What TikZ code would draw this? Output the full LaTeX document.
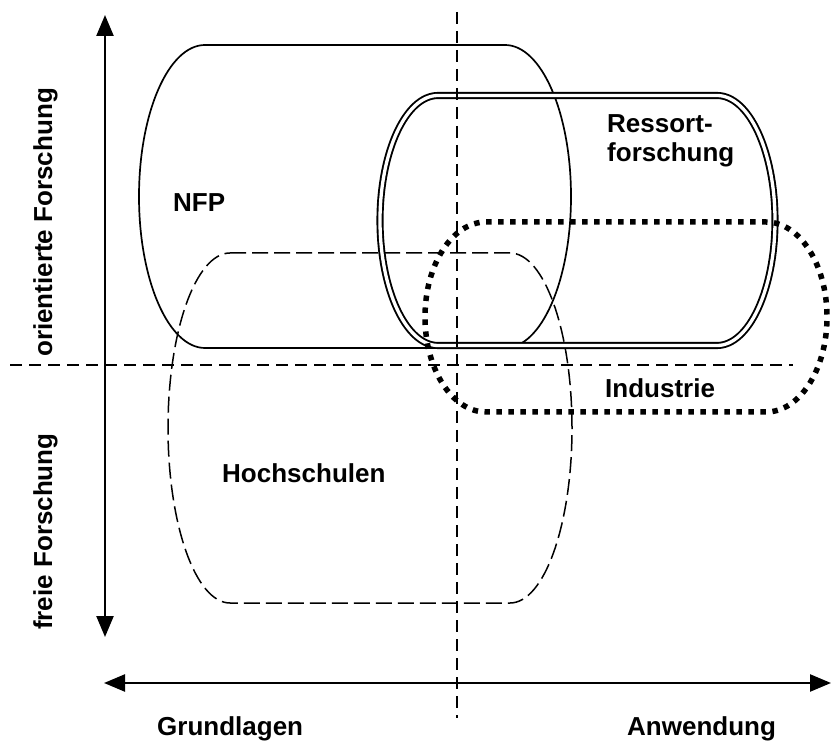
\documentclass[tikz,border=0pt]{standalone}
\usepackage{fontspec}
\setmainfont{Liberation Sans}
\usetikzlibrary{arrows.meta}
\newcommand{\capsulepath}[5]{(#1,#3+#5) -- (#2,#3+#5) arc[start angle=90,end angle=-90,x radius=#4,y radius=#5] -- (#1,#3-#5) arc[start angle=270,end angle=90,x radius=#4,y radius=#5] -- cycle}
\tikzset{
  lbl/.style={font=\fontsize{26}{30}\selectfont\bfseries, inner sep=0pt, anchor=base west},
  axisarrow/.style={line width=2.4pt, {Triangle[width=17pt,length=21pt]}-{Triangle[width=17pt,length=21pt]}},
  axisdash/.style={line width=2.8pt, dash pattern=on 12pt off 7pt},
  nfpline/.style={line width=1.7pt},
  ressortline/.style={line width=1.9pt, double, double distance=3.3pt},
  industrieline/.style={line width=5.5pt, dash pattern=on 5.5pt off 6.5pt},
  hochline/.style={line width=1.5pt, dash pattern=on 16pt off 6pt}
}
\begin{document}
\begin{tikzpicture}[x=1pt,y=1pt]
\useasboundingbox (0,0) rectangle (832,742);
% shapes
\draw[nfpline] \capsulepath{205}{505}{545.5}{66}{151.5};
\draw[hochline] \capsulepath{230}{510}{314}{62}{175};
\draw[ressortline] \capsulepath{438}{717}{521.5}{58}{125};
\draw[industrieline] \capsulepath{486}{766}{425}{61}{95};
% dashed quadrant lines
\coordinate (hl) at (10,377);
\coordinate (hr) at (793,377);
\coordinate (vt) at (457,730);
\coordinate (vb) at (457,24);
\draw[axisdash] (hl) -- (hr);
\draw[axisdash] (vt) -- (vb);
% axes
\coordinate (yt) at (105,727);
\coordinate (yb) at (105,105);
\coordinate (xl) at (104,59);
\coordinate (xr) at (831,59);
\draw[axisarrow] (yb) -- (yt);
\draw[axisarrow] (xl) -- (xr);
% labels
\node[lbl] (nfp) at (173,530) {NFP};
\node[lbl] (hoch) at (222,259) {Hochschulen};
\node[lbl] (ress1) at (607,609) {Ressort-};
\node[lbl] (ress2) at (607,580) {forschung};
\node[lbl] (ind) at (605,344) {Industrie};
\node[lbl] (grund) at (157,7) {Grundlagen};
\node[lbl] (anw) at (627,7) {Anwendung};
\node[lbl, rotate=90] (orient) at (52,385) {orientierte Forschung};
\node[lbl, rotate=90] (frei) at (52,112) {freie Forschung};
\end{tikzpicture}
\end{document}
